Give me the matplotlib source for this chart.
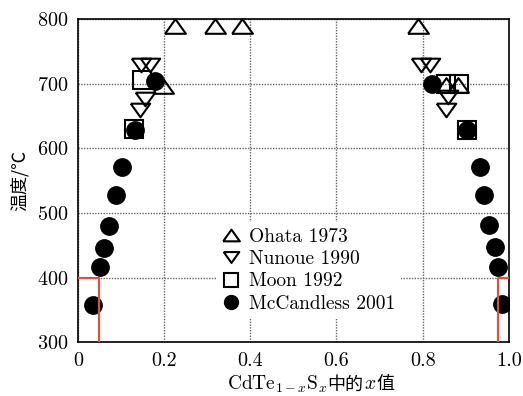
import matplotlib
matplotlib.use('Agg')
import matplotlib.pyplot as plt
from matplotlib.offsetbox import TextArea, HPacker, AnchoredOffsetbox

# data
ohata_x = [0.198, 0.225, 0.318, 0.380, 0.790, 0.855, 0.883]
ohata_y = [697, 789, 789, 789, 789, 698, 698]

nunoue_x = [0.143, 0.155, 0.146, 0.168, 0.797, 0.817, 0.859, 0.855]
nunoue_y = [659, 676, 729, 729, 729, 729, 679, 659]

moon_x = [0.131, 0.149, 0.855, 0.885, 0.902]
moon_y = [630, 705, 700, 700, 628]

mcc_x = [0.035, 0.052, 0.060, 0.072, 0.089, 0.103, 0.133, 0.179,
         0.821, 0.902, 0.933, 0.943, 0.954, 0.967, 0.975, 0.983]
mcc_y = [357, 416, 445, 480, 528, 571, 629, 704,
         700, 628, 571, 528, 481, 447, 416, 359]

labels = ['Ohata 1973', 'Nunoue 1990', 'Moon 1992', 'McCandless 2001']

# red guide lines (solubility limit at 400 C)
red_left_x = 0.05
red_right_x = 0.975
red_y = 400

xticks = [0, 0.2, 0.4, 0.6, 0.8, 1.0]
xtick_labels = ['0', '0.2', '0.4', '0.6', '0.8', '1.0']
yticks = [300, 400, 500, 600, 700, 800]

plt.rcParams['font.family'] = ['cmr10', 'Noto Sans CJK SC']
plt.rcParams['mathtext.fontset'] = 'cm'
plt.rcParams['axes.formatter.use_mathtext'] = True

tri_up = [(-1, -0.7), (1, -0.7), (0, 0.7), (-1, -0.7)]
tri_down = [(-1, 0.7), (1, 0.7), (0, -0.7), (-1, 0.7)]

fig = plt.figure(figsize=(5.23, 3.96), dpi=100)
ax = fig.add_axes([0.149, 0.136, 0.824, 0.816])

ax.plot(ohata_x, ohata_y, linestyle='none', marker=tri_up, ms=15,
        mfc='none', mec='black', mew=1.5, label=labels[0], clip_on=False, zorder=3)
ax.plot(nunoue_x, nunoue_y, linestyle='none', marker=tri_down, ms=14,
        mfc='none', mec='black', mew=1.5, label=labels[1], zorder=3)
ax.plot(moon_x, moon_y, linestyle='none', marker='s', ms=13,
        mfc='none', mec='black', mew=1.5, label=labels[2], zorder=3)
ax.plot(mcc_x, mcc_y, linestyle='none', marker='o', ms=12.5,
        mfc='black', mec='black', label=labels[3], zorder=4)

ax.plot([0, red_left_x, red_left_x], [red_y, red_y, 300], color='#e0503c', lw=1.6, zorder=5)
ax.plot([1.0, red_right_x, red_right_x], [red_y, red_y, 300], color='#e0503c', lw=1.6, zorder=5)

ax.set_xlim(0, 1.0)
ax.set_ylim(300, 800)
ax.set_xticks(xticks)
ax.set_xticklabels(xtick_labels)
ax.set_yticks(yticks)
ax.tick_params(direction='in', length=0, labelsize=14.5, pad=7)
ax.grid(True, linestyle=(0, (1, 1)), color='#666666', lw=1.0)
ax.set_axisbelow(True)
for s in ax.spines.values():
    s.set_linewidth(1.2)

ax.set_ylabel('温度/℃', fontsize=13, family=['Noto Sans CJK SC'], labelpad=6)

# x label: mixed math + Chinese, packed piece by piece
cjk = dict(size=13, family=['Noto Sans CJK SC'])
cm = dict(size=14)
parts = [TextArea(r'CdTe$_{1-x}$S$_x$', textprops=cm),
         TextArea('中的', textprops=cjk),
         TextArea(r'$x$', textprops=cm),
         TextArea('值', textprops=cjk)]
box = HPacker(children=parts, align='baseline', pad=0, sep=0)
anchored = AnchoredOffsetbox(loc='center', child=box, frameon=False, pad=0,
                             bbox_to_anchor=(0.54, -0.13),
                             bbox_transform=ax.transAxes, borderpad=0)
ax.add_artist(anchored)
anchored.set_clip_on(False)

leg = ax.legend(loc='center', bbox_to_anchor=(0.535, 0.222), fontsize=14,
                markerscale=0.8, handlelength=1.0, handletextpad=0.4,
                labelspacing=0.22, borderpad=0.3, framealpha=1,
                edgecolor='none', fancybox=False)
leg.set_zorder(2.5)

fig.savefig('out.png', dpi=100)
